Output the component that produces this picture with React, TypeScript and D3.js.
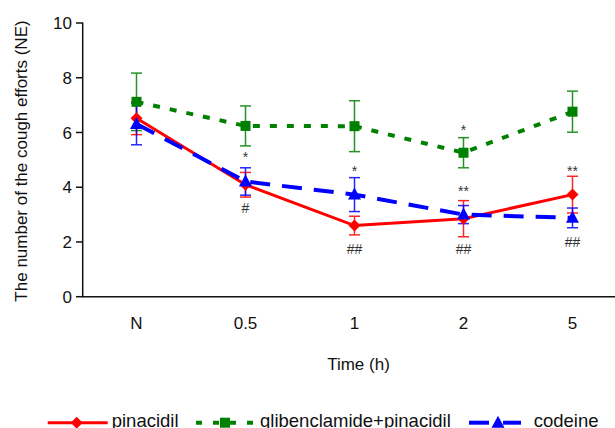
import React from "react";
import * as d3 from "d3";

const categories = ["N", "0.5", "1", "2", "5"];
const yTicks = [0, 2, 4, 6, 8, 10];

const pinacidil = [6.52, 4.09, 2.6, 2.85, 3.73];
const pinacidilErr = [0.6, 0.45, 0.34, 0.66, 0.67];
const glibPin = [7.12, 6.24, 6.23, 5.26, 6.76];
const glibPinErr = [1.05, 0.73, 0.93, 0.55, 0.75];
const codeine = [6.31, 4.21, 3.73, 3.0, 2.88];
const codeineErr = [0.76, 0.5, 0.62, 0.33, 0.36];

const annCategory = ["0.5", "0.5", "1", "1", "2", "2", "2", "5", "5"];
const annText = ["*", "#", "*", "##", "*", "**", "##", "**", "##"];
const annValue = [4.92, 3.06, 4.42, 1.56, 5.91, 3.69, 1.56, 4.42, 1.82];

const legendLabels = ["pinacidil", "glibenclamide+pinacidil", "codeine"];

const FONT = "'Liberation Sans', Arial, Helvetica, sans-serif";

export default function App() {
  const W = 615;
  const H = 428;
  const x = d3.scaleBand<string>().domain(categories).range([82, 627]);
  const y = d3.scaleLinear().domain([0, 10]).range([296.7, 23]);
  const cx = (c: string) => (x(c) as number) + x.bandwidth() / 2;

  const series = [
    { name: legendLabels[0], vals: pinacidil, err: pinacidilErr, color: "#ff0000", dash: "none", width: 3, marker: "diamond" },
    { name: legendLabels[1], vals: glibPin, err: glibPinErr, color: "#008000", dash: "7,10", width: 4, marker: "square" },
    { name: legendLabels[2], vals: codeine, err: codeineErr, color: "#0000ff", dash: "20,12", width: 4, marker: "triangle" },
  ];
  const drawOrder = [1, 0, 2];

  const line = d3
    .line<number>()
    .x((_, i) => cx(categories[i]))
    .y((d) => y(d));

  const marker = (type: string, px: number, py: number, color: string, key: string) => {
    if (type === "diamond") {
      const s = 6;
      return <path key={key} d={`M${px},${py - s}L${px + s},${py}L${px},${py + s}L${px - s},${py}Z`} fill={color} />;
    }
    if (type === "square") {
      return <rect key={key} x={px - 5} y={py - 5} width={10} height={10} fill={color} />;
    }
    return <path key={key} d={`M${px},${py - 7}L${px + 6.5},${py + 5}L${px - 6.5},${py + 5}Z`} fill={color} />;
  };

  return (
    <svg width={W} height={H} style={{ position: "absolute", left: 0, top: 0, background: "#fff" }} fontFamily={FONT}>
      <rect width={W} height={H} fill="#fff" />
      {/* axes */}
      <line x1={82.7} x2={82.7} y1={22.5} y2={297} stroke="#111" strokeWidth={1.5} />
      <line x1={82} x2={615} y1={296.7} y2={296.7} stroke="#111" strokeWidth={1.5} />
      {yTicks.map((t) => (
        <g key={t}>
          <line x1={76} x2={82.7} y1={y(t)} y2={y(t)} stroke="#111" strokeWidth={1.5} />
          <text x={72} y={y(t)} dy="0.36em" textAnchor="end" fontSize={17} fill="#111">
            {t}
          </text>
        </g>
      ))}
      {categories.map((c) => (
        <text key={c} x={cx(c)} y={329} textAnchor="middle" fontSize={17} fill="#111">
          {c}
        </text>
      ))}
      <text x={358.5} y={370} textAnchor="middle" fontSize={17} fill="#111">
        Time (h)
      </text>
      <text transform="translate(27,161) rotate(-90)" textAnchor="middle" fontSize={17} fill="#111">
        The number of the cough efforts (NE)
      </text>

      {/* error bars */}
      {drawOrder.map((si) => {
        const s = series[si];
        return (
          <g key={"e" + si} stroke={s.color} strokeWidth={1.5} opacity={0.85}>
            {s.vals.map((v, i) => {
              const px = cx(categories[i]);
              const t = y(v + s.err[i]);
              const b = y(v - s.err[i]);
              return (
                <g key={i}>
                  <line x1={px} x2={px} y1={t} y2={b} />
                  <line x1={px - 5.5} x2={px + 5.5} y1={t} y2={t} />
                  <line x1={px - 5.5} x2={px + 5.5} y1={b} y2={b} />
                </g>
              );
            })}
          </g>
        );
      })}

      {/* lines */}
      {drawOrder.map((si) => {
        const s = series[si];
        return (
          <path
            key={"l" + si}
            d={line(s.vals) || ""}
            fill="none"
            stroke={s.color}
            strokeWidth={s.width}
            strokeDasharray={s.dash}
          />
        );
      })}

      {/* markers */}
      {drawOrder.map((si) => {
        const s = series[si];
        return (
          <g key={"m" + si}>
            {s.vals.map((v, i) => marker(s.marker, cx(categories[i]), y(v), s.color, si + "-" + i))}
          </g>
        );
      })}

      {/* annotations */}
      {annText.map((t, i) => (
        <text key={"a" + i} x={cx(annCategory[i])} y={y(annValue[i])} textAnchor="middle" fontSize={14} fill="#333">
          {t}
        </text>
      ))}

      {/* legend */}
      <g>
        <line x1={47.7} x2={107.7} y1={422.7} y2={422.7} stroke="#ff0000" strokeWidth={3} />
        {marker("diamond", 76.7, 422.7, "#ff0000", "lg0")}
        <text x={111.7} y={427} fontSize={18.5} fill="#111">{legendLabels[0]}</text>

        <line x1={196} x2={253} y1={422.7} y2={422.7} stroke="#008000" strokeWidth={4} strokeDasharray="6,11" />
        {marker("square", 225, 422.7, "#008000", "lg1")}
        <text x={260} y={427} fontSize={18.5} fill="#111">{legendLabels[1]}</text>

        <line x1={469} x2={489} y1={422.7} y2={422.7} stroke="#0000ff" strokeWidth={4} />
        <line x1={503} x2={521} y1={422.7} y2={422.7} stroke="#0000ff" strokeWidth={4} />
        {marker("triangle", 498, 422.7, "#0000ff", "lg2")}
        <text x={533.7} y={427} fontSize={18.5} fill="#111">{legendLabels[2]}</text>
      </g>
    </svg>
  );
}
